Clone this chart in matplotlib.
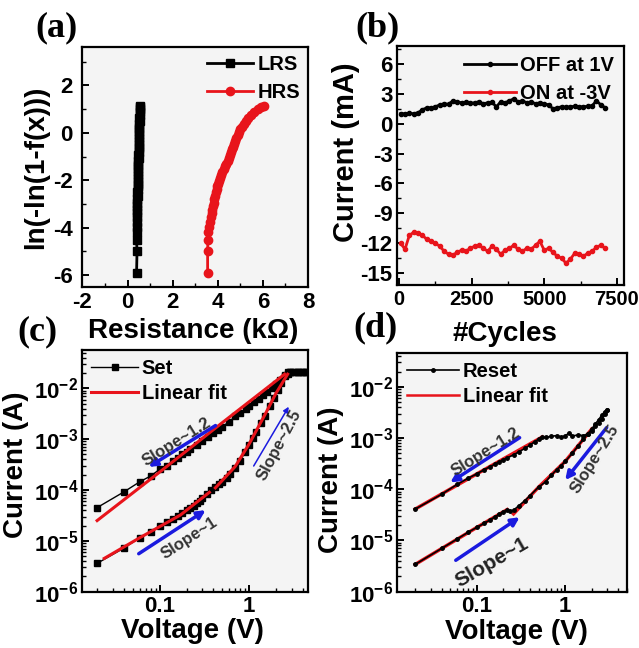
import matplotlib
matplotlib.use("Agg")
import matplotlib.pyplot as plt
from matplotlib.ticker import MultipleLocator, FixedLocator, FuncFormatter, LogLocator, NullFormatter

plt.rcParams['font.family'] = ['Liberation Sans', 'DejaVu Sans']
plt.rcParams['font.weight'] = 'bold'
plt.rcParams['axes.labelweight'] = 'bold'
plt.rcParams['axes.unicode_minus'] = False
plt.rcParams['mathtext.fontset'] = 'custom'
plt.rcParams['mathtext.rm'] = 'Liberation Sans:bold'
plt.rcParams['mathtext.bf'] = 'Liberation Sans:bold'
plt.rcParams['mathtext.it'] = 'Liberation Sans:bold'

# ---- (a) Weibull distribution of resistance ----
weibull_y = [-5.9, -5.0, -4.5, -4.2, -3.95, -3.75, -3.55, -3.4, -3.25, -3.1, -2.95,
             -2.8, -2.65, -2.5, -2.38, -2.26, -2.14, -2.02, -1.9, -1.78, -1.66, -1.54,
             -1.42, -1.3, -1.18, -1.06, -0.94, -0.82, -0.7, -0.58, -0.46, -0.34, -0.22,
             -0.1, 0.02, 0.14, 0.26, 0.38, 0.5, 0.62, 0.74, 0.86, 0.98, 1.08, 1.12]
lrs_r = [0.40, 0.42, 0.40, 0.41, 0.42, 0.41, 0.43, 0.42, 0.44, 0.43, 0.44, 0.43,
         0.45, 0.44, 0.45, 0.46, 0.45, 0.46, 0.47, 0.46, 0.47, 0.46, 0.48, 0.47,
         0.48, 0.49, 0.48, 0.49, 0.50, 0.49, 0.50, 0.51, 0.50, 0.52, 0.51, 0.52,
         0.53, 0.52, 0.54, 0.53, 0.55, 0.54, 0.56, 0.55, 0.57]
hrs_r = [3.55, 3.55, 3.56, 3.58, 3.62, 3.66, 3.70, 3.73, 3.76, 3.79, 3.82, 3.85,
         3.88, 3.92, 3.95, 3.98, 4.02, 4.06, 4.10, 4.15, 4.20, 4.26, 4.32, 4.38,
         4.44, 4.50, 4.56, 4.60, 4.65, 4.69, 4.73, 4.78, 4.83, 4.88, 4.94, 5.00,
         5.08, 5.16, 5.26, 5.36, 5.48, 5.62, 5.78, 5.93, 6.05]

# ---- (b) endurance ----
cycles = [50, 200, 350, 500, 650, 800, 950, 1100, 1250, 1400, 1550, 1700, 1850, 2000,
          2150, 2300, 2450, 2600, 2750, 2900, 3050, 3200, 3350, 3500, 3650, 3800, 3950,
          4100, 4250, 4400, 4550, 4700, 4850, 5000, 5150, 5300, 5450, 5600, 5750, 5900,
          6050, 6200, 6350, 6500, 6650, 6800, 6950, 7100]
off_1v = [1.0, 1.0, 1.05, 1.0, 1.1, 1.4, 1.6, 1.6, 1.7, 1.9, 2.0, 1.95, 2.3, 2.2, 2.1,
          2.15, 2.05, 2.1, 2.2, 2.0, 2.1, 2.15, 1.7, 2.2, 2.1, 2.3, 2.5, 2.2, 2.3, 2.1,
          2.2, 2.0, 2.1, 2.0, 1.9, 1.5, 1.6, 1.7, 1.65, 1.7, 1.75, 1.7, 1.7, 1.75, 1.8,
          2.3, 1.9, 1.6]
on_m3v = [-12.0, -12.6, -11.2, -10.9, -11.0, -11.2, -11.6, -11.8, -12.0, -12.3, -12.8,
          -13.1, -13.2, -12.9, -12.7, -12.8, -12.5, -12.3, -12.2, -12.5, -12.8, -12.3,
          -12.6, -13.1, -12.7, -12.5, -12.2, -12.6, -12.8, -12.5, -12.6, -12.2, -11.8,
          -12.7, -12.5, -12.9, -13.3, -13.5, -14.0, -13.6, -13.0, -13.1, -13.3, -13.0,
          -12.8, -12.4, -12.2, -12.5]

# ---- (c) set I-V ----
set_fwd_v = [0.02, 0.04, 0.06, 0.08, 0.10, 0.12, 0.14, 0.16, 0.18, 0.20, 0.22, 0.24,
             0.26, 0.28, 0.30, 0.34, 0.38, 0.42, 0.46, 0.50, 0.56, 0.62, 0.70, 0.80,
             0.90, 1.0, 1.1, 1.2, 1.35, 1.5, 1.7, 1.9, 2.1, 2.3, 2.5, 2.7, 2.9, 3.1,
             3.3, 3.5, 3.7, 3.9, 4.1, 4.3]
set_fwd_i = [3.6e-6, 7.2e-6, 1.15e-5, 1.5e-5, 1.95e-5, 2.3e-5, 2.7e-5, 3.05e-5, 3.5e-5,
             3.95e-5, 4.4e-5, 4.9e-5, 5.5e-5, 6.2e-5, 6.8e-5, 8.2e-5, 9.8e-5, 1.13e-4,
             1.3e-4, 1.45e-4, 1.7e-4, 2.1e-4, 2.7e-4, 3.8e-4, 5.6e-4, 7.8e-4, 1.05e-3,
             1.4e-3, 2.1e-3, 2.9e-3, 4.4e-3, 6.5e-3, 9.3e-3, 1.3e-2, 1.8e-2, 2.1e-2,
             2.1e-2, 2.1e-2, 2.1e-2, 2.1e-2, 2.1e-2, 2.1e-2, 2.1e-2, 2.1e-2]
set_bwd_v = [4.3, 3.5, 2.9, 2.7, 2.5, 2.2, 2.0, 1.8, 1.6, 1.43, 1.3, 1.15, 1.0, 0.93, 0.8,
             0.7, 0.6, 0.5, 0.45, 0.4, 0.35, 0.3, 0.26, 0.22, 0.2, 0.18, 0.16, 0.14,
             0.12, 0.10, 0.08, 0.06, 0.04, 0.02]
set_bwd_i = [2.1e-2, 2.1e-2, 2.05e-2, 1.9e-2, 1.75e-2, 1.45e-2, 1.2e-2, 1.0e-2, 8.4e-3,
             7.4e-3, 6.3e-3, 5.3e-3, 4.5e-3, 4.0e-3, 3.3e-3, 2.8e-3, 2.2e-3, 1.75e-3,
             1.5e-3, 1.3e-3, 1.1e-3, 9.3e-4, 7.7e-4, 6.4e-4, 5.7e-4, 5.0e-4, 4.3e-4,
             3.7e-4, 3.0e-4, 2.55e-4, 1.9e-4, 1.45e-4, 9.2e-5, 4.5e-5]
set_fit_hi_v = [0.02, 0.1, 0.5, 2.5]
set_fit_hi_i = [2.5e-5, 2.25e-4, 2.1e-3, 1.9e-2]
set_fit_lo_v = [0.024, 0.06, 0.17, 0.36]
set_fit_lo_i = [4.5e-6, 1.15e-5, 3.2e-5, 9.0e-5]
set_fit_st_v = [0.42, 0.7, 1.0, 1.5, 2.0, 2.7]
set_fit_st_i = [1.1e-4, 2.9e-4, 8.0e-4, 3.0e-3, 8.0e-3, 1.9e-2]

# ---- (d) reset I-V ----
rst_fwd_v = [0.02, 0.04, 0.06, 0.08, 0.10, 0.12, 0.14, 0.16, 0.18, 0.20, 0.22, 0.24,
             0.26, 0.30, 0.35, 0.40, 0.50, 0.60, 0.70, 0.80, 0.90, 1.0, 1.2, 1.4, 1.6,
             1.8, 2.0, 2.2, 2.4, 2.6, 2.8, 3.0]
rst_fwd_i = [3.4e-6, 7.0e-6, 1.07e-5, 1.45e-5, 1.8e-5, 2.15e-5, 2.5e-5, 2.9e-5, 3.25e-5,
             3.6e-5, 4.0e-5, 3.7e-5, 3.9e-5, 4.8e-5, 6.0e-5, 7.5e-5, 1.1e-4, 1.4e-4,
             1.9e-4, 2.4e-4, 2.9e-4, 3.5e-4, 5.0e-4, 7.0e-4, 9.5e-4, 1.2e-3, 1.5e-3,
             1.9e-3, 2.3e-3, 2.8e-3, 3.3e-3, 3.6e-3]
rst_bwd_v = [3.0, 2.8, 2.6, 2.4, 2.2, 2.0, 1.8, 1.6, 1.4, 1.2, 1.1, 1.0, 0.9, 0.8, 0.7,
             0.6, 0.55, 0.5, 0.45, 0.40, 0.35, 0.30, 0.26, 0.22, 0.20, 0.18, 0.16, 0.14,
             0.12, 0.10, 0.08, 0.06, 0.04, 0.02]
rst_bwd_i = [3.5e-3, 2.9e-3, 2.4e-3, 2.0e-3, 1.7e-3, 1.4e-3, 1.2e-3, 1.12e-3, 1.15e-3,
             1.1e-3, 1.25e-3, 1.1e-3, 1.05e-3, 1.12e-3, 1.08e-3, 1.03e-3, 1.05e-3,
             9.5e-4, 8.5e-4, 7.3e-4, 6.3e-4, 5.4e-4, 4.7e-4, 4.1e-4, 3.8e-4, 3.45e-4,
             3.1e-4, 2.75e-4, 2.4e-4, 2.0e-4, 1.65e-4, 1.25e-4, 8.0e-5, 4.1e-5]
rst_fit_hi_v = [0.02, 0.1, 0.55]
rst_fit_hi_i = [4.1e-5, 2.0e-4, 1.05e-3]
rst_fit_lo_v = [0.02, 0.1, 0.22]
rst_fit_lo_i = [3.4e-6, 1.8e-5, 4.0e-5]
rst_fit_st_v = [0.26, 0.5, 1.0, 2.0]
rst_fit_st_i = [3.3e-5, 1.1e-4, 3.5e-4, 1.5e-3]

BG = '#f4f4f4'
RED = '#e8141b'
BLUE = '#1a1adf'


def style(ax):
    ax.set_facecolor(BG)
    for s in ax.spines.values():
        s.set_linewidth(1.6)
    ax.tick_params(which='major', direction='in', length=5, width=1.4,
                   labelsize=16, top=False, right=False)
    ax.tick_params(which='minor', direction='in', length=3, width=1.0,
                   top=False, right=False)


def ylab(ax, text, x, y, size):
    # centred y label at given axes coords
    ax.set_ylabel(text, fontsize=size)
    ax.yaxis.set_label_coords(x, y)
    ax.yaxis.label.set_verticalalignment('center')


def log_fmt(v, pos):
    import math
    return r'$10^{%d}$' % round(math.log10(v))


fig = plt.figure(figsize=(6.39, 6.48), dpi=100)
fig.patch.set_facecolor('white')

# (a)
ax = fig.add_axes([0.129, 0.557, 0.353, 0.370])
style(ax)
ax.plot(lrs_r, weibull_y, '-s', color='black', ms=5.5, lw=2, label='LRS')
ax.plot(hrs_r, weibull_y, '-o', color=RED, ms=6, lw=2, label='HRS')
ax.set_xlim(-2, 8)
ax.set_ylim(-6.5, 3.6)
ax.xaxis.set_major_locator(MultipleLocator(2))
ax.xaxis.set_minor_locator(MultipleLocator(1))
ax.yaxis.set_major_locator(FixedLocator([-6, -4, -2, 0, 2]))
ax.yaxis.set_minor_locator(MultipleLocator(1))
ax.tick_params(axis='y', which='major', pad=7)
ax.set_xlabel('Resistance (k\u03a9)', fontsize=20)
ax.xaxis.set_label_coords(0.49, -0.13)
ylab(ax, 'ln(-ln(1-f(x)))', -0.207, 0.50, 20)
ax.legend(loc='upper right', frameon=False, fontsize=14.5, handlelength=2.3,
          handletextpad=0.2, borderaxespad=0.0, labelspacing=0.45)

# (b)
ax = fig.add_axes([0.622, 0.560, 0.355, 0.369])
style(ax)
ax.plot(cycles, off_1v, '-o', color='black', ms=3, lw=2, label='OFF at 1V')
ax.plot(cycles, on_m3v, '-o', color=RED, ms=3, lw=2, label='ON at -3V')
ax.set_xlim(-60, 7760)
ax.set_ylim(-16.2, 7.8)
ax.xaxis.set_major_locator(MultipleLocator(2500))
ax.xaxis.set_minor_locator(MultipleLocator(1250))
ax.yaxis.set_major_locator(MultipleLocator(3))
ax.yaxis.set_minor_locator(MultipleLocator(1.5))
ax.tick_params(axis='x', which='major', labelsize=14.5)
ax.set_xlabel('#Cycles', fontsize=20)
ax.xaxis.set_label_coords(0.476, -0.15)
ylab(ax, 'Current (mA)', -0.228, 0.556, 21)
ax.legend(loc='upper right', frameon=False, fontsize=14.5, handlelength=2.6,
          handletextpad=0.2, borderaxespad=0.1, labelspacing=0.45)

# (c)
ax = fig.add_axes([0.129, 0.087, 0.353, 0.373])
style(ax)
ax.set_xscale('log')
ax.set_yscale('log')
ax.plot(set_fwd_v, set_fwd_i, '-s', color='black', ms=4, lw=1, label='Set')
ax.plot(set_bwd_v, set_bwd_i, '-s', color='black', ms=4, lw=1)
ax.plot(set_fit_hi_v, set_fit_hi_i, '-', color=RED, lw=2.2, label='Linear fit')
ax.plot(set_fit_lo_v, set_fit_lo_i, '-', color=RED, lw=2.2)
ax.plot(set_fit_st_v, set_fit_st_i, '-', color=RED, lw=2.2)
ax.set_xlim(0.0137, 4.56)
ax.set_ylim(1e-6, 0.057)
ax.yaxis.set_major_locator(LogLocator(base=10, numticks=10))
ax.yaxis.set_major_formatter(FuncFormatter(log_fmt))
ax.yaxis.set_minor_formatter(NullFormatter())
ax.xaxis.set_major_locator(FixedLocator([0.1, 1]))
ax.xaxis.set_major_formatter(FuncFormatter(lambda v, p: '%g' % v))
ax.xaxis.set_minor_formatter(NullFormatter())
ax.tick_params(axis='y', which='major', pad=3)
ax.set_xlabel('Voltage (V)', fontsize=20)
ax.xaxis.set_label_coords(0.487, -0.11)
ylab(ax, 'Current (A)', -0.296, 0.524, 20)
ax.legend(loc='upper left', frameon=False, fontsize=14.5, handlelength=2.3,
          handletextpad=0.2, borderaxespad=0.05, labelspacing=0.3)
arrow = dict(arrowstyle='-|>', color=BLUE, lw=2.5, mutation_scale=12)
ax.annotate('', xy=(0.071, 2.66e-4), xytext=(0.448, 1.98e-3), arrowprops=arrow)
ax.annotate('', xy=(0.347, 4.3e-5), xytext=(0.055, 5.2e-6), arrowprops=arrow)
ax.annotate('', xy=(2.88, 4.84e-3), xytext=(1.086, 2.66e-4),
            arrowprops=dict(arrowstyle='-|>', color=BLUE, lw=1.1, mutation_scale=8))
ax.text(0.154, 8.9e-4, 'Slope~1.2', rotation=32, fontsize=12, color='#333333',
        ha='center', va='center')
ax.text(0.216, 1.13e-5, 'Slope~1', rotation=33, fontsize=12, color='#333333',
        ha='center', va='center')
ax.text(2.19, 7.7e-4, 'Slope~2.5', rotation=62, fontsize=12, color='#333333',
        ha='center', va='center')

# (d)
ax = fig.add_axes([0.622, 0.087, 0.359, 0.369])
style(ax)
ax.set_xscale('log')
ax.set_yscale('log')
ax.plot(rst_fit_hi_v, rst_fit_hi_i, '-', color=RED, lw=2.5)
ax.plot(rst_fit_lo_v, rst_fit_lo_i, '-', color=RED, lw=2.5)
ax.plot(rst_fit_st_v, rst_fit_st_i, '-', color=RED, lw=2.5)
ax.plot(rst_fwd_v, rst_fwd_i, '-o', color='black', ms=2.5, lw=1.2, label='Reset')
ax.plot(rst_bwd_v, rst_bwd_i, '-o', color='black', ms=2.5, lw=1.2)
ax.plot([], [], '-', color=RED, lw=1.8, label='Linear fit')
ax.set_xlim(0.0126, 5.0)
ax.set_ylim(1e-6, 0.047)
ax.yaxis.set_major_locator(LogLocator(base=10, numticks=10))
ax.yaxis.set_major_formatter(FuncFormatter(log_fmt))
ax.yaxis.set_minor_formatter(NullFormatter())
ax.xaxis.set_major_locator(FixedLocator([0.1, 1]))
ax.xaxis.set_major_formatter(FuncFormatter(lambda v, p: '%g' % v))
ax.xaxis.set_minor_formatter(NullFormatter())
ax.tick_params(axis='y', which='major', pad=3)
ax.set_xlabel('Voltage (V)', fontsize=20)
ax.xaxis.set_label_coords(0.52, -0.115)
ylab(ax, 'Current (A)', -0.289, 0.467, 20)
ax.legend(loc='upper left', frameon=False, fontsize=14.5, handlelength=2.6,
          handletextpad=0.2, borderaxespad=0.05, labelspacing=0.3)
ax.annotate('', xy=(0.047, 1.27e-4), xytext=(0.324, 1.09e-3), arrowprops=arrow)
ax.annotate('', xy=(0.324, 3.05e-5), xytext=(0.0543, 3.82e-6), arrowprops=arrow)
ax.annotate('', xy=(0.957, 1.37e-4), xytext=(3.09, 1.77e-3), arrowprops=arrow)
ax.text(0.124, 5.3e-4, 'Slope~1.2', rotation=32, fontsize=12, color='#333333',
        ha='center', va='center')
ax.text(0.148, 3.7e-6, 'Slope~1', rotation=30, fontsize=15, color='#222222',
        ha='center', va='center')
ax.text(2.18, 3.9e-4, 'Slope~2.5', rotation=58, fontsize=12, color='#333333',
        ha='center', va='center')

# panel letters
for lab, x, y in [('(a)', 0.089, 0.957), ('(b)', 0.590, 0.957),
                  ('(c)', 0.058, 0.488), ('(d)', 0.587, 0.494)]:
    fig.text(x, y, lab, fontsize=26, fontweight='bold', family='Liberation Serif',
             ha='center', va='center')

fig.savefig('out.png', dpi=100, facecolor='white')
